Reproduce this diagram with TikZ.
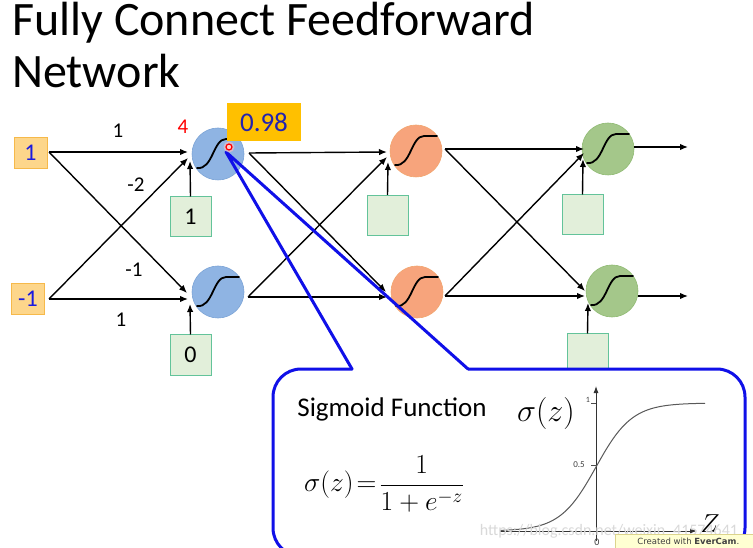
\RequirePackage{fix-cm}
\documentclass[tikz,border=0pt]{standalone}
\usepackage{fontspec}
\setmainfont{Carlito}
\newfontfamily\dejavu{DejaVu Sans}
\usetikzlibrary{arrows.meta,calc}
\definecolor{inboxf}{HTML}{FDD68B}
\definecolor{inboxd}{HTML}{F6B94A}
\definecolor{txtblue}{HTML}{1A1AE0}
\definecolor{nblue}{HTML}{8FB4E3}
\definecolor{nblued}{HTML}{7BA3D6}
\definecolor{norange}{HTML}{F7A47C}
\definecolor{noranged}{HTML}{F2A56E}
\definecolor{ngreen}{HTML}{A4C78A}
\definecolor{ngreend}{HTML}{8FBA72}
\definecolor{biasf}{HTML}{E2EFDA}
\definecolor{biasd}{HTML}{63C39A}
\definecolor{goldbox}{HTML}{FFC000}
\definecolor{valblue}{HTML}{2323B0}
\definecolor{callblue}{HTML}{1010E8}
\definecolor{every}{HTML}{FFFFD2}
\definecolor{everyd}{HTML}{DCD48C}
\begin{document}
\begin{tikzpicture}[x=1pt,y=-1pt,
  neuron/.style={circle,minimum size=52pt,inner sep=0pt,line width=0.6pt},
  bluen/.style={neuron,fill=nblue,draw=nblued},
  orangen/.style={neuron,fill=norange,draw=noranged},
  greenn/.style={neuron,fill=ngreen,draw=ngreend},
  inbox/.style={rectangle,minimum width=33pt,minimum height=31pt,inner sep=0pt,fill=inboxf,draw=inboxd,line width=0.6pt,text=txtblue,font=\fontsize{24}{28}\selectfont},
  biasbox/.style={rectangle,minimum width=41pt,minimum height=40pt,inner sep=0pt,fill=biasf,draw=biasd,line width=1pt,font=\fontsize{24}{28}\selectfont},
  conn/.style={line width=1.4pt,-{Latex[length=8pt,width=6.5pt]}},
  wlabel/.style={font=\fontsize{21}{24}\selectfont},
  sig/.pic={\draw[line width=1.8pt,line cap=round] (-21,14) .. controls (-5,16) and (-5,-15) .. (8,-15) -- (21,-15);},
  callline/.style={draw=callblue,line width=3pt,line join=round,line cap=round}
]
\clip (0,0) rectangle (753,548);
\fill[white] (0,0) rectangle (753,548);

% title
\node[anchor=base west,inner sep=0pt,font=\fontsize{48}{54}\selectfont] (t1) at (12,36) {Fully Connect Feedforward};
\node[anchor=base west,inner sep=0pt,font=\fontsize{48}{54}\selectfont] (t2) at (12,88) {Network};

% inputs
\node[inbox] (x1) at (30.5,153) {1};
\node[inbox] (x2) at (28,299) {-1};

% neurons
\node[bluen] (h1) at (218,154) {};
\node[bluen] (h2) at (218,292) {};
\node[orangen] (o1) at (416,151) {};
\node[orangen] (o2) at (417,292) {};
\node[greenn] (g1) at (608,149) {};
\node[greenn] (g2) at (612,291) {};
\foreach \n in {h1,h2,o1,o2,g1,g2} \pic at (\n) {sig};

% biases
\node[biasbox] (b1) at (190.5,217) {1};
\node[biasbox] (b2) at (190.5,355) {0};
\node[biasbox] (b3) at (387.5,215.5) {};
\node[biasbox] (b4) at (582.5,215) {};
\node[biasbox] (b5) at (587.5,354) {};

% connector points
\coordinate (x1o) at (49,152);
\coordinate (x2o) at (49,299);
\coordinate (h1a) at (188,152);
\coordinate (h1b) at (188,158);
\coordinate (h1c) at (190,161);
\coordinate (h2a) at (187,293);
\coordinate (h2b) at (188,299);
\coordinate (h2c) at (190,304);
\coordinate (h1o) at (249,153);
\coordinate (h2o) at (248,297);
\coordinate (o1a) at (387,152);
\coordinate (o1b) at (387,157);
\coordinate (o1c) at (388,162);
\coordinate (o2a) at (386,292);
\coordinate (o2b) at (387,297);
\coordinate (o1o) at (445,149);
\coordinate (o2o) at (445,296);
\coordinate (g1a) at (584,149);
\coordinate (g1b) at (584,153);
\coordinate (g1c) at (583,159);
\coordinate (g2a) at (585,291);
\coordinate (g2b) at (585,296);
\coordinate (g2c) at (588,303);
\coordinate (g1o) at (634,147);
\coordinate (g2o) at (638,296);
\coordinate (y1) at (688,147);
\coordinate (y2) at (688,296);

% layer 1
\draw[conn] (x1o) -- (h1a);
\draw[conn] (x1o) -- (h2a);
\draw[conn] (x2o) -- (h1b);
\draw[conn] (x2o) -- (h2b);
\draw[conn] (b1.north) -- (h1c);
\draw[conn] (b2.north) -- (h2c);
% layer 2
\draw[conn] (h1o) -- (o1a);
\draw[conn] (h1o) -- (o2a);
\draw[conn] (h2o) -- (o1b);
\draw[conn] (h2o) -- (o2b);
\draw[conn] (b3.north) -- (o1c);
% layer 3
\draw[conn] (o1o) -- (g1a);
\draw[conn] (o1o) -- (g2a);
\draw[conn] (o2o) -- (g1b);
\draw[conn] (o2o) -- (g2b);
\draw[conn] (b4.north) -- (g1c);
\draw[conn] (b5.north) -- (g2c);
% outputs
\draw[conn] (g1o) -- (y1);
\draw[conn] (g2o) -- (y2);

% weight labels
\node[wlabel] (w1) at (118,131) {1};
\node[wlabel] (w2) at (136,185) {-2};
\node[wlabel] (w3) at (134,270) {-1};
\node[wlabel] (w4) at (121,320) {1};
\node[wlabel,text=red] (z1) at (183,127) {4};

% value box
\node[rectangle,fill=goldbox,minimum width=74pt,minimum height=38pt,inner sep=0pt,text=valblue,font=\fontsize{27}{30}\selectfont] (val) at (264,122) {0.98};

% callout
\fill[white] (273,369) rectangle (745,556);
\draw[callline,rounded corners=28pt] (352,369) -- (273,369) -- (273,556) -- (745,556) -- (745,369) -- (468,369);
\coordinate (tip) at (226,152);
\coordinate (pl) at (352,369);
\coordinate (pr) at (468,369);
\draw[callline] (pl) -- (tip) -- (pr);

% red dot
\fill[red!25,opacity=0.6] (229,147) circle (5.5pt);
\draw[red,line width=1.2pt,fill=red!20] (229,147) circle (3pt);

% callout content
\node[font=\fontsize{27}{31}\selectfont] (sf) at (392,409) {Sigmoid Function};
\node[inner sep=0pt,font=\fontsize{27.5}{32}\selectfont] (fm) at (384,484) {$\displaystyle \sigma(z)\!=\!\frac{1}{1+e^{-z}}$};

% graph
\coordinate (ax0) at (500,531);
\coordinate (ax1) at (697,531);
\coordinate (ay0) at (596,541);
\coordinate (ay1) at (596,386);
\draw[line width=0.9pt,black!80,-{Latex[length=7pt,width=5pt]}] (ax0) -- (ax1);
\draw[line width=0.9pt,black!80,-{Latex[length=7pt,width=5pt]}] (ay0) -- (ay1);
\draw[line width=0.6pt,black!70] (591,465) -- (596,465);
\draw[line width=0.6pt,black!70] (591,403) -- (596,403);
\draw[line width=1pt,black!65,domain=500:705,samples=80,smooth] plot (\x,{531-128/(1+exp(-(\x-596)/18))});
\node[font=\fontsize{9}{10}\selectfont,black!75] (l05) at (579,465) {0.5};
\node[font=\fontsize{8}{9}\selectfont,black!75] (l1) at (588,400) {1};
\node[font=\fontsize{10}{11}\selectfont,black!75] (l0) at (597,542) {0};
\node[font=\fontsize{32}{36}\selectfont] (sz) at (546,414) {$\sigma(z)$};
\node[font=\fontsize{26}{30}\selectfont] (zl) at (710,524) {$Z$};

% watermark and label
\node[font=\fontsize{16}{18}\selectfont,text=black!15] (wm) at (609,531) {https://blog.csdn.net/weixin\_41574641};
\node[rectangle,anchor=north west,fill=every,draw=everyd,line width=0.6pt,minimum width=140pt,minimum height=15pt,inner sep=0pt,font=\dejavu\fontsize{8.5}{10}\selectfont,text=black!75] (ec) at (615,534) {\hspace*{6pt}Created with \textbf{EverCam}.\hfill};
\end{tikzpicture}
\end{document}
